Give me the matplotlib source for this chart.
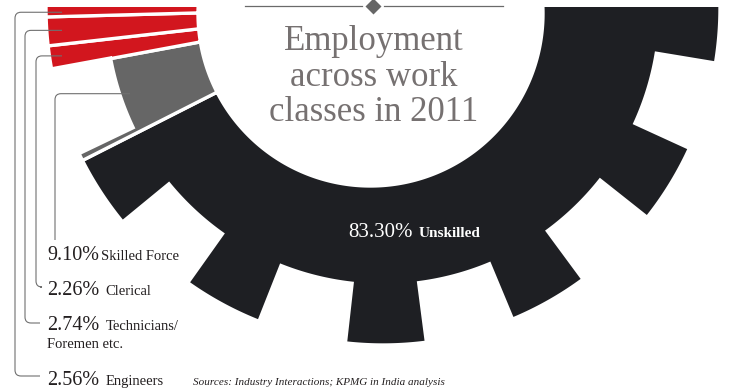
import numpy as np
import matplotlib
matplotlib.use('Agg')
import matplotlib.pyplot as plt
from matplotlib.patches import Polygon, Rectangle, PathPatch
from matplotlib.path import Path

# ── data ─────────────────────────────────────────────────────────────────────
categories = ['Unskilled', 'Skilled Force', 'Clerical', 'Technicians/', 'Engineers']
shares = [83.30, 9.10, 2.26, 2.74, 2.56]          # % of employment
pct_labels = ['83.30%', '9.10%', '2.26%', '2.74%', '2.56%']
seg_colors = ['#1e1f23', '#666666', '#d2161e', '#d2161e', '#d2161e']

TITLE = ['Employment', 'across work', 'classes in 2011']
SOURCE = 'Sources: Industry Interactions; KPMG in India analysis'

# ── gear geometry (pixel units, y up) ────────────────────────────────────────
W, H = 730, 391
CX, CY = 383, 383             # gear centre
HOLE_CX, HOLE_CY = 370.5, 377.5
R_HOLE = 172.5
R_BODY = 277
R_TOOTH = 337
TOOTH0, TOOTH_PITCH, TOOTH_HALF = 212.5, 29.0, 6.9
START = 206.9                 # angle where the big slice starts (deg)
MINOR_DEG = 1.8               # small slices are squeezed: deg per %
CLIP_TOP = 384.5

tooth_centres = TOOTH0 + TOOTH_PITCH * np.arange(-3, 14)


def in_tooth(a):
    return np.min(np.abs(tooth_centres - a)) < TOOTH_HALF


def hole_radius(a):
    # distance from gear centre to the (slightly off-centre) hole along angle a
    u = np.array([np.cos(np.radians(a)), np.sin(np.radians(a))])
    d = np.array([CX - HOLE_CX, CY - HOLE_CY])
    b = d @ u
    return -b + np.sqrt(b * b - d @ d + R_HOLE ** 2)


def segment_outline(a0, a1):
    edges = [e for c in tooth_centres for e in (c - TOOTH_HALF, c + TOOTH_HALF)
             if a0 < e < a1]
    bounds = [a0] + sorted(edges) + [a1]
    pts = []
    for s, e in zip(bounds[:-1], bounds[1:]):
        r = R_TOOTH if in_tooth((s + e) / 2) else R_BODY
        for a in np.linspace(s, e, max(2, int((e - s) * 2))):
            pts.append((CX + r * np.cos(np.radians(a)), CY + r * np.sin(np.radians(a))))
    for a in np.linspace(a1, a0, max(2, int((a1 - a0) * 2))):
        r = hole_radius(a)
        pts.append((CX + r * np.cos(np.radians(a)), CY + r * np.sin(np.radians(a))))
    return pts


# slice angles: the big slice runs forward from START, the others backwards
spans = [MINOR_DEG * s for s in shares[1:]]
spans = [360 - sum(spans)] + spans
angles = [(START, START + spans[0])]
a_hi = START
for sp in spans[1:]:
    angles.append((a_hi - sp, a_hi))
    a_hi -= sp

fig = plt.figure(figsize=(7.3, 3.91), dpi=100)
ax = fig.add_axes([0, 0, 1, 1])
ax.set_xlim(0, W)
ax.set_ylim(0, H)
ax.axis('off')

clip = Rectangle((0, 0), W, CLIP_TOP, transform=ax.transData)
for (a0, a1), col in zip(angles, seg_colors):
    poly = Polygon(segment_outline(a0, a1), closed=True, facecolor=col,
                   edgecolor='white', linewidth=2.4, joinstyle='miter')
    ax.add_patch(poly)
    poly.set_clip_path(clip)

# ── title ────────────────────────────────────────────────────────────────────
serif = 'Liberation Serif'
title_y = [341, 305.5, 270]
for line, y in zip(TITLE, title_y):
    ax.text(374, y, line, ha='center', va='baseline', fontsize=25,
            family=serif, color='#767171')
ax.plot([245, 362], [385, 385], color='#6a6a6a', lw=0.9)
ax.plot([384, 503], [385, 385], color='#6a6a6a', lw=0.9)
ax.plot([373], [385], marker='D', ms=8, color='#666666', mec='none')

# ── big slice label ──────────────────────────────────────────────────────────
ax.text(413, 154, pct_labels[0], ha='right', va='baseline', fontsize=15,
        family=serif, color='white')
ax.text(419, 154, categories[0], ha='left', va='baseline', fontsize=11,
        family=serif, color='white', weight='bold')

# ── left labels with leader lines ────────────────────────────────────────────
label_base = {1: 131, 2: 96, 3: 61, 4: 6}
name_gap = {1: 2, 2: 6, 3: 6, 4: 6}
fig.canvas.draw()
renderer = fig.canvas.get_renderer()
inv = ax.transData.inverted()
for i in range(1, 5):
    t = ax.text(47, label_base[i], pct_labels[i], ha='left', va='baseline',
                fontsize=14.5, family=serif, color='#231f20')
    x_end = inv.transform(t.get_window_extent(renderer).get_points())[1, 0]
    ax.text(x_end + name_gap[i], label_base[i], categories[i], ha='left',
            va='baseline', fontsize=10.5, family=serif, color='#231f20')
ax.text(47, 43, 'Foremen etc.', ha='left', va='baseline', fontsize=10.5,
        family=serif, color='#231f20')
ax.text(193, 6, SOURCE, ha='left', va='baseline', fontsize=8, style='italic',
        family=serif, color='#231f20')


def leader(points, r=6):
    verts, codes = [points[0]], [Path.MOVETO]
    for p0, p1, p2 in zip(points[:-2], points[1:-1], points[2:]):
        p0, p1, p2 = map(np.array, (p0, p1, p2))
        d0 = (p1 - p0) / np.linalg.norm(p1 - p0)
        d1 = (p2 - p1) / np.linalg.norm(p2 - p1)
        verts += [tuple(p1 - d0 * r), tuple(p1), tuple(p1 + d1 * r)]
        codes += [Path.LINETO, Path.CURVE3, Path.CURVE3]
    verts.append(points[-1])
    codes.append(Path.LINETO)
    ax.add_patch(PathPatch(Path(verts, codes), fill=False, edgecolor='#707070',
                           lw=0.8))


lead_x = {1: 130, 2: 62, 3: 62, 4: 62}
lead_v = {1: 55, 2: 36, 3: 25, 4: 15}
lead_end = {1: 151, 2: 104, 3: 68, 4: 15}
for i in range(1, 5):
    a0, a1 = angles[i]
    mid = np.radians((max(a0, 180) + a1) / 2)
    y0 = CY + (lead_x[i] - CX) * np.tan(mid)
    pts = [(lead_x[i], y0), (lead_v[i], y0), (lead_v[i], lead_end[i])]
    if i > 1:
        pts.append((40, lead_end[i]))
    leader(pts)

fig.savefig('out.png', dpi=100)
